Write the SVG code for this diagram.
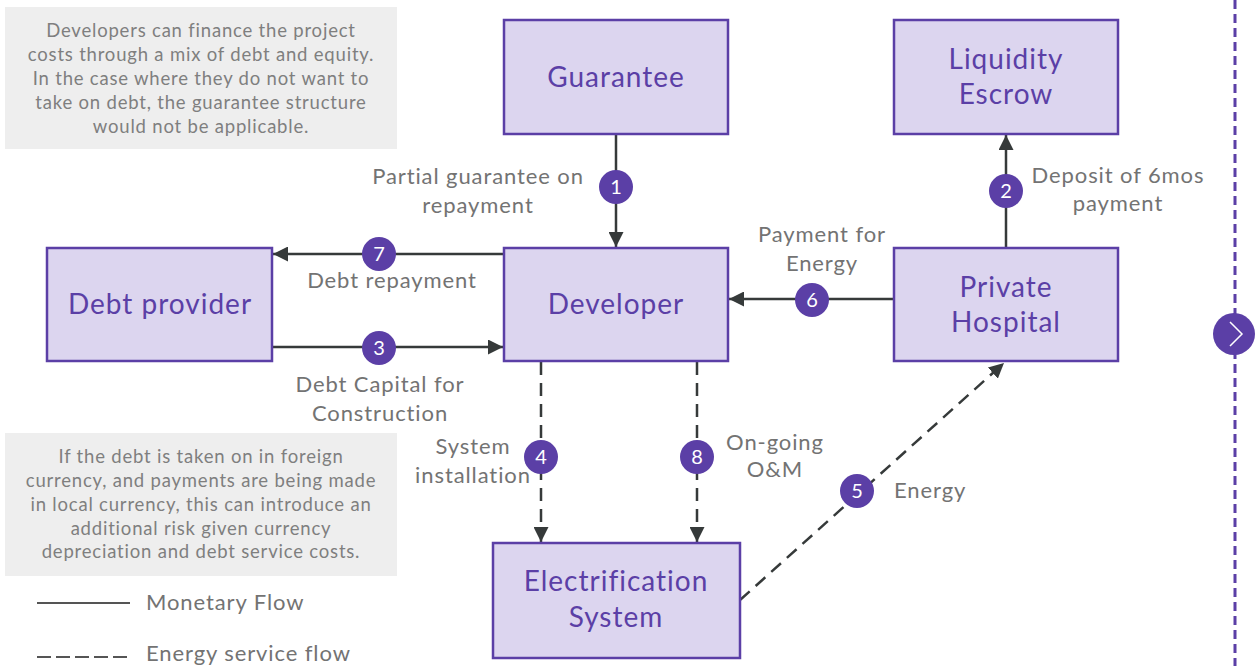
<svg xmlns="http://www.w3.org/2000/svg" width="1255" height="666" viewBox="0 0 1255 666">
<style>
.node{fill:#dcd5ef;stroke:#5b3fa6;stroke-width:2.5}
.nt{font-family:Lato,"Open Sans",sans-serif;font-size:28px;letter-spacing:1px;fill:#5b3fa6;text-anchor:middle}
.note{fill:#eeeeee}
.nx{font-family:Lato,"Open Sans",sans-serif;font-size:18.5px;letter-spacing:0.8px;fill:#7f7f7f;text-anchor:middle}
.lb{font-family:Lato,"Open Sans",sans-serif;font-size:22px;letter-spacing:0.9px;fill:#737373;text-anchor:middle}
.c{stroke:#363a3a;stroke-width:2.5;fill:none}
.d{stroke-dasharray:13 8}
.bad{fill:#5b3fa6}
.bn{font-family:Lato,"Open Sans",sans-serif;font-size:20px;fill:#ffffff;text-anchor:middle}
</style>
<defs>
<marker id="ah" viewBox="0 0 10 10" refX="10" refY="5" markerWidth="6" markerHeight="6" markerUnits="strokeWidth" orient="auto">
<path d="M0,0 L10,5 L0,10 z" fill="#363a3a"/>
</marker>
</defs>
<rect width="1255" height="666" fill="#ffffff"/>
<g id="note-top">
<rect class="note" x="5" y="7" width="392" height="142"/>
<text class="nx" x="201" y="37">Developers can finance the project</text>
<text class="nx" x="201" y="61">costs through a mix of debt and equity.</text>
<text class="nx" x="201" y="85">In the case where they do not want to</text>
<text class="nx" x="201" y="109">take on debt, the guarantee structure</text>
<text class="nx" x="201" y="133">would not be applicable.</text>
</g>
<g id="note-bottom">
<rect class="note" x="5" y="433" width="392" height="143"/>
<text class="nx" x="201" y="463">If the debt is taken on in foreign</text>
<text class="nx" x="201" y="487">currency, and payments are being made</text>
<text class="nx" x="201" y="511">in local currency, this can introduce an</text>
<text class="nx" x="201" y="535">additional risk given currency</text>
<text class="nx" x="201" y="558">depreciation and debt service costs.</text>
</g>
<g id="connectors">
<line class="c" x1="616" y1="134" x2="616" y2="247" marker-end="url(#ah)"/>
<line class="c" x1="1006" y1="248" x2="1006" y2="135" marker-end="url(#ah)"/>
<line class="c" x1="504" y1="254" x2="273" y2="254" marker-end="url(#ah)"/>
<line class="c" x1="272" y1="347" x2="503" y2="347" marker-end="url(#ah)"/>
<line class="c" x1="894" y1="299" x2="729" y2="299" marker-end="url(#ah)"/>
<line class="c d" x1="541" y1="362" x2="541" y2="542" marker-end="url(#ah)"/>
<line class="c d" x1="697" y1="362" x2="697" y2="542" marker-end="url(#ah)"/>
<line class="c d" x1="740" y1="600" x2="1004" y2="363" marker-end="url(#ah)"/>
</g>
<g id="badges">
<circle class="bad" cx="616" cy="187" r="17"/><text class="bn" x="616" y="194">1</text>
<circle class="bad" cx="1006" cy="191" r="17"/><text class="bn" x="1006" y="198">2</text>
<circle class="bad" cx="379" cy="348" r="17"/><text class="bn" x="379" y="355">3</text>
<circle class="bad" cx="541" cy="457" r="17"/><text class="bn" x="541" y="464">4</text>
<circle class="bad" cx="857" cy="491" r="17"/><text class="bn" x="857" y="498">5</text>
<circle class="bad" cx="812" cy="300" r="17"/><text class="bn" x="812" y="307">6</text>
<circle class="bad" cx="379" cy="254" r="17"/><text class="bn" x="379" y="261">7</text>
<circle class="bad" cx="697" cy="457" r="17"/><text class="bn" x="697" y="464">8</text>
</g>
<g id="labels">
<text class="lb" x="478" y="184">Partial guarantee on</text>
<text class="lb" x="478" y="213">repayment</text>
<text class="lb" x="1118" y="183">Deposit of 6mos</text>
<text class="lb" x="1118" y="211">payment</text>
<text class="lb" x="822" y="242">Payment for</text>
<text class="lb" x="822" y="271">Energy</text>
<text class="lb" x="392" y="288">Debt repayment</text>
<text class="lb" x="380" y="392">Debt Capital for</text>
<text class="lb" x="380" y="421">Construction</text>
<text class="lb" x="473" y="454">System</text>
<text class="lb" x="473" y="483">installation</text>
<text class="lb" x="775" y="450">On-going</text>
<text class="lb" x="775" y="477">O&amp;M</text>
<text class="lb" x="894" y="498" style="text-anchor:start">Energy</text>
</g>
<g id="guarantee">
<rect class="node" x="504" y="20" width="224" height="114"/>
<text class="nt" x="616" y="87">Guarantee</text>
</g>
<g id="liquidity-escrow">
<rect class="node" x="894" y="20" width="224" height="114"/>
<text class="nt" x="1006" y="69">Liquidity</text>
<text class="nt" x="1006" y="104">Escrow</text>
</g>
<g id="debt-provider">
<rect class="node" x="47" y="248" width="225" height="113"/>
<text class="nt" x="160" y="314">Debt provider</text>
</g>
<g id="developer">
<rect class="node" x="504" y="248" width="224" height="113"/>
<text class="nt" x="616" y="314">Developer</text>
</g>
<g id="private-hospital">
<rect class="node" x="894" y="248" width="224" height="113"/>
<text class="nt" x="1006" y="297">Private</text>
<text class="nt" x="1006" y="332">Hospital</text>
</g>
<g id="electrification-system">
<rect class="node" x="493" y="543" width="247" height="115"/>
<text class="nt" x="616" y="591">Electrification</text>
<text class="nt" x="616" y="627">System</text>
</g>
<g id="legend">
<line class="c" x1="37" y1="603" x2="130" y2="603" style="stroke:#555;stroke-width:2"/>
<text class="lb" x="146" y="610" style="text-anchor:start">Monetary Flow</text>
<line class="c" x1="37" y1="657" x2="130" y2="657" style="stroke:#555;stroke-width:2;stroke-dasharray:14 5"/>
<text class="lb" x="146" y="661" style="text-anchor:start">Energy service flow</text>
</g>
<g id="divider">
<line x1="1235" y1="0" x2="1235" y2="666" stroke="#5b3fa6" stroke-width="3" stroke-dasharray="9 5"/>
<circle cx="1234" cy="334" r="21" fill="#5b3fa6"/>
<path d="M1230,322 L1242,334 L1230,346" fill="none" stroke="#ffffff" stroke-width="1.5"/>
</g>
</svg>
